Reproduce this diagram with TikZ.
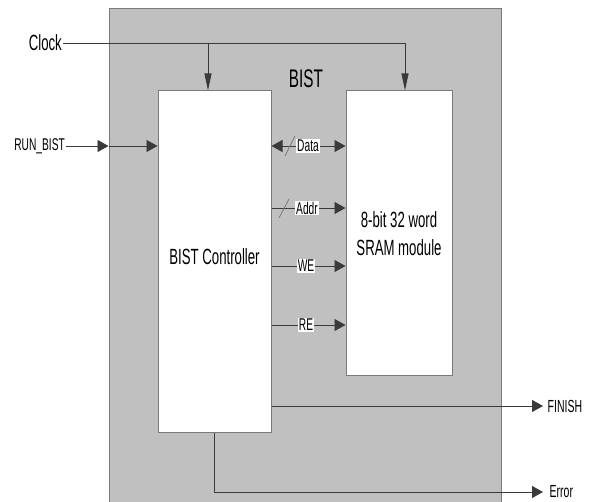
\documentclass[tikz,border=0pt]{standalone}
\usepackage{fontspec}
\setmainfont{Liberation Sans}[FakeStretch=0.6]
\usetikzlibrary{arrows.meta}
\definecolor{bistgray}{HTML}{C0C0C0}
\definecolor{wire}{HTML}{3A3A3A}
\definecolor{edge}{HTML}{7A7A7A}
\tikzset{
  hwire/.style={draw=wire, line width=0.9pt, -{Triangle[length=11pt,width=12pt]}},
  vwire/.style={draw=wire, line width=0.9pt, -{Triangle[length=17pt,width=7pt]}},
  blockbox/.style={draw=edge, line width=1pt, fill=white, align=center, inner sep=0pt},
  siglabel/.style={fill=white, inner sep=1pt, font=\fontsize{17}{18}\selectfont},
  extlabel/.style={inner sep=0.5pt, font=\fontsize{17.5}{19}\selectfont},
}
\begin{document}
\begin{tikzpicture}[x=1pt,y=-1pt]
\clip (0,0) rectangle (590,502);
\fill[white] (0,0) rectangle (590,502);
% outer BIST box
\node[draw=edge, line width=1pt, fill=bistgray, minimum width=392pt, minimum height=506pt, inner sep=0pt] (outer) at (305,262) {};
\node[font=\fontsize{25.5}{27}\selectfont] (bistlbl) at (306,79) {BIST};
% blocks
\node[blockbox, minimum width=113pt, minimum height=342pt, font=\fontsize{22}{24}\selectfont, text depth=0pt] (ctrl) at (214.5,262) {\raisebox{10pt}{BIST Controller}};
\node[blockbox, minimum width=106pt, minimum height=285pt, font=\fontsize{22}{28}\selectfont] (sram) at (399,233.5) {8-bit 32 word\\SRAM module};
% clock
\node[anchor=east, inner sep=1pt, font=\fontsize{22}{24}\selectfont] (clock) at (63,43) {Clock};
\coordinate (clkA) at (208,43);
\coordinate (clkB) at (405,43);
\draw[vwire] (clock.east) -- (clkB) -- (clkB |- sram.north);
\draw[vwire] (clkA) -- (clkA |- ctrl.north);
% RUN_BIST
\node[anchor=east, inner sep=1pt, font=\fontsize{17}{18}\selectfont] (run) at (66,146) {RUN\_BIST};
\draw[hwire] (run.east) -- (run.east -| outer.west);
\draw[hwire] (run.east -| outer.west) -- (run.east -| ctrl.west);
% internal signals
\coordinate (yd) at (0,146);
\coordinate (ya) at (0,208);
\coordinate (yw) at (0,266);
\coordinate (yr) at (0,325);
\draw[hwire, {Triangle[length=11pt,width=12pt]}-{Triangle[length=11pt,width=12pt]}] (ctrl.east |- yd) -- (sram.west |- yd);
\draw[hwire] (ctrl.east |- ya) -- (sram.west |- ya);
\draw[hwire] (ctrl.east |- yw) -- (sram.west |- yw);
\draw[hwire] (ctrl.east |- yr) -- (sram.west |- yr);
% bus slashes
\draw[draw=edge, line width=0.8pt] (285,156) -- (295,136);
\draw[draw=edge, line width=0.8pt] (279,218) -- (289,199);
\node[siglabel] (data) at (308,146) {Data};
\node[siglabel] (addr) at (307,208) {Addr};
\node[siglabel] (we) at (306,266) {WE};
\node[siglabel] (re) at (306,325) {RE};
% outputs
\node[extlabel, anchor=west] (fin) at (547,406) {FINISH};
\node[extlabel, anchor=west] (err) at (549,492) {Error};
\draw[hwire, shorten >=4pt] (ctrl.east |- fin.west) -- (fin.west);
\draw[hwire, shorten >=6pt] (ctrl.south) |- (err.west);
\end{tikzpicture}
\end{document}
